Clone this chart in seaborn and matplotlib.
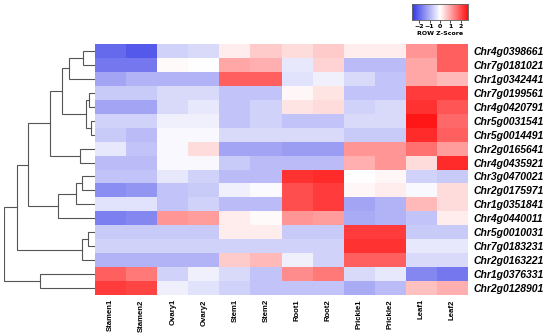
import numpy as np
import pandas as pd
import matplotlib
matplotlib.use("Agg")
import matplotlib.pyplot as plt
import seaborn as sns
from matplotlib.colors import LinearSegmentedColormap

samples = ["Stamen1", "Stamen2", "Ovary1", "Ovary2", "Stem1", "Stem2",
           "Root1", "Root2", "Prickle1", "Prickle2", "Leaf1", "Leaf2"]

genes = ["Chr4g0398661", "Chr7g0181021", "Chr1g0342441", "Chr7g0199561",
         "Chr4g0420791", "Chr5g0031541", "Chr5g0014491", "Chr2g0165641",
         "Chr4g0435921", "Chr3g0470021", "Chr2g0175971", "Chr1g0351841",
         "Chr4g0440011", "Chr5g0010031", "Chr7g0183231", "Chr2g0163221",
         "Chr1g0376331", "Chr2g0128901"]

# row z-scores
zscores = [
    [-2.0, -2.2, -0.6, -0.5,  0.2,  0.6,  0.4,  0.6,  0.2,  0.2,  1.2,  1.8],
    [-1.8, -1.8,  0.05, 0.0,  1.0,  0.9, -0.3,  0.5, -0.9, -0.9,  1.0,  1.8],
    [-1.2, -1.0, -1.0, -1.0,  1.8,  1.8, -0.4, -0.2, -0.5, -0.8,  1.0,  0.8],
    [-0.7, -0.7, -0.5, -0.5, -0.8, -0.8,  0.1,  0.3, -0.8, -0.8,  2.2,  2.2],
    [-1.2, -1.2, -0.5, -0.3, -0.8, -0.6,  0.3,  0.4, -0.6, -0.5,  2.3,  1.9],
    [-0.6, -0.6, -0.2, -0.2, -0.8, -0.6, -0.8, -0.8, -0.5, -0.5,  2.6,  1.7],
    [-0.7, -0.9, -0.1, -0.1, -0.5, -0.5, -0.5, -0.5, -0.7, -0.7,  2.4,  1.8],
    [-0.3, -0.8, -0.1,  0.4, -1.2, -1.2, -1.3, -1.3,  1.2,  1.2,  1.6,  1.1],
    [-0.9, -0.9, -0.1, -0.1, -0.7, -0.9, -0.9, -0.9,  0.9,  1.2,  0.4,  2.4],
    [-0.8, -0.8, -0.3, -0.6, -0.9, -0.9,  2.3,  2.4,  0.0,  0.1, -0.6, -0.7],
    [-1.5, -1.4, -0.8, -0.7, -0.2, -0.05, 2.0,  2.2,  0.1,  0.2, -0.1,  0.4],
    [-0.4, -0.4, -0.8, -0.6, -0.9, -0.9,  2.0,  2.2, -1.2, -1.0,  0.8,  0.4],
    [-1.7, -1.6,  1.2,  1.1,  0.2,  0.05, 1.2,  1.1, -1.1, -1.0, -0.8,  0.2],
    [-0.7, -0.7, -0.7, -0.7,  0.2,  0.2, -0.7, -0.7,  2.2,  2.2, -0.7, -0.7],
    [-0.6, -0.6, -0.6, -0.6, -0.6, -0.6, -0.6, -0.6,  2.3,  2.3, -0.3, -0.3],
    [-1.0, -1.0, -1.0, -1.0,  0.6,  0.8, -0.2, -0.6,  1.8,  1.8, -0.5, -0.5],
    [ 1.8,  1.5, -0.6, -0.2, -0.5, -0.8,  1.3,  1.5, -0.5, -0.3, -1.6, -1.8],
    [ 2.2,  2.1, -0.2, -0.4, -0.6, -0.8, -0.8, -0.8, -1.1, -0.9,  0.7,  0.9],
]

# row dendrogram merges: (left node, right node, height); leaves are 0..17
merges = [
    (0, 1, 12.3), (18, 2, 25.7), (3, 4, 5.7), (5, 6, 4.3), (20, 21, 9.0),
    (19, 22, 33.3), (7, 8, 15.0), (23, 24, 45.0), (9, 10, 13.3),
    (26, 11, 19.0), (27, 12, 36.7), (25, 28, 66.7), (13, 14, 6.7),
    (30, 15, 12.7), (29, 31, 77.7), (16, 17, 55.0), (32, 33, 91.0),
]

df = pd.DataFrame(zscores, index=genes, columns=samples)
cmap = LinearSegmentedColormap.from_list("bwr2", ["#2f34e6", "#ffffff", "#ff1010"])

fig = plt.figure(figsize=(5.5, 3.35), dpi=100)
ax = fig.add_axes([95 / 550, 1 - 295 / 335, 373 / 550, 251 / 335])
dax = fig.add_axes([4 / 550, 1 - 295 / 335, 91 / 550, 251 / 335])
cax = fig.add_axes([412 / 550, 1 - 20 / 335, 56 / 550, 16 / 335])

sns.heatmap(df, ax=ax, cmap=cmap, vmin=-2.7, vmax=2.7, cbar_ax=cax,
            cbar_kws={"orientation": "horizontal", "ticks": [-2, -1, 0, 1, 2]})

ax.yaxis.tick_right()
ax.set_yticks(np.arange(len(genes)) + 0.5)
ax.set_yticklabels(genes, rotation=0, fontsize=7.5, fontweight="bold",
                   fontstyle="italic", family="Liberation Sans")
ax.set_xticks(np.arange(len(samples)) + 0.5)
ax.set_xticklabels(samples, rotation=90, fontsize=5.6, fontweight="bold",
                   family="Liberation Sans")
ax.tick_params(axis="y", length=0, pad=4)
ax.tick_params(axis="x", length=0, pad=3)
ax.set_xlabel("")
ax.set_ylabel("")

# colorbar
cax.xaxis.set_ticks_position("bottom")
cax.tick_params(labelsize=4.5, length=2, width=0.5, pad=1)
for t in cax.get_xticklabels():
    t.set_fontweight("bold")
cax.set_xlabel("ROW Z-Score", fontsize=4.5, fontweight="bold", labelpad=1.5)
for s in cax.spines.values():
    s.set_visible(True)
    s.set_linewidth(0.5)
    s.set_color("#666666")

# dendrogram
n = len(genes)
pos = {i: i + 0.5 for i in range(n)}
hgt = {i: 0.0 for i in range(n)}
for k, (a, b, h) in enumerate(merges):
    node = n + k
    ya, yb = pos[a], pos[b]
    dax.plot([hgt[a], h, h, hgt[b]], [ya, ya, yb, yb], color="#555555", lw=0.8,
             solid_joinstyle="miter")
    pos[node] = (ya + yb) / 2
    hgt[node] = h
dax.set_xlim(merges[-1][2], 0)
dax.set_ylim(n, 0)
dax.axis("off")

plt.savefig("out.png", dpi=100)
plt.close()
